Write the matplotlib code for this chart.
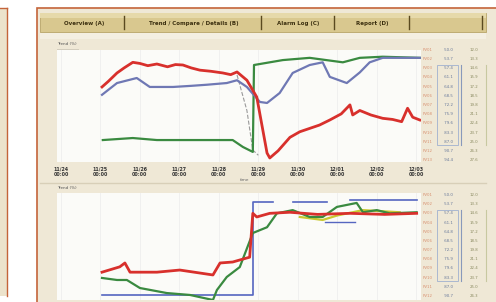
import numpy as np
import matplotlib
matplotlib.use("Agg")
import matplotlib.pyplot as plt
from matplotlib.patches import Rectangle

# ---- data (x in days, y in % of panel range) ----
top_red_x = [1.04, 1.2, 1.42, 1.6, 1.82, 2.0, 2.2, 2.43, 2.7, 2.9, 3.09, 3.3, 3.52, 3.8, 4.10, 4.3, 4.46,
             4.71, 4.96, 5.22, 5.29, 5.5, 5.80, 6.05, 6.30, 6.55, 6.81, 7.1, 7.32, 7.39, 7.57, 7.85, 8.15,
             8.4, 8.63, 8.78, 8.91, 9.09]
top_red_y = [67, 72, 79.5, 84, 89, 88, 86, 87.5, 85, 87, 86.6, 84, 82, 81, 79.5, 78, 80.4,
             73, 58, 8, 3.6, 10, 22, 27, 30, 33, 37.5, 43, 51, 42, 46, 42, 39,
             38, 36, 48, 40, 37.5]

top_blue_x = [1.04, 1.42, 1.92, 2.25, 2.84, 3.3, 3.70, 4.20, 4.46, 4.71, 5.04, 5.22, 5.54, 5.87, 6.30,
              6.63, 6.81, 7.24, 7.57, 7.82, 8.15, 8.6, 9.09]
top_blue_y = [60, 70.5, 75, 67, 67, 68, 69, 70.5, 73, 67, 53.6, 52.7, 61.6, 79.5, 86.6,
              89, 76, 70.5, 80, 89, 93, 93, 93]

top_green_x = [1.06, 1.82, 2.43, 3.4, 4.35, 4.61, 4.86, 4.89, 5.62, 6.30, 7.14, 7.57, 8.15, 9.09]
top_green_y = [19.6, 21.4, 19.6, 19.6, 19.6, 13.4, 9, 86.6, 91, 93, 89, 93, 94, 93]

top_gray_x = [4.46, 4.71, 4.86, 5.0]
top_gray_y = [77.7, 46, 10.7, 6]

bot_red_x = [1.04, 1.49, 1.62, 1.75, 2.43, 3.01, 3.85, 4.03, 4.35, 4.53, 4.78, 4.86, 4.96, 5.29, 5.80,
             6.5, 7.32, 8.2, 9.01]
bot_red_y = [26, 31, 34.6, 26, 26, 28, 23.4, 34.6, 35.5, 37.4, 40, 81, 77.6, 81, 82,
             80, 81, 80, 81]

bot_green_x = [1.04, 1.42, 1.67, 2.0, 2.68, 3.27, 3.85, 3.95, 4.20, 4.53, 4.86, 5.22, 5.47, 5.87, 6.30,
               6.63, 6.99, 7.49, 7.65, 8.0, 8.33, 9.01]
bot_green_y = [20.6, 18.7, 18.7, 11.2, 6.5, 4.7, 0, 9.3, 21.5, 30.8, 62.6, 68, 81, 84, 77.6,
               77.6, 87, 90.7, 82, 84, 81, 82]

bot_blue_x = [1.04, 4.86, 4.86, 5.37, np.nan, 5.87, 6.73, np.nan, 7.32, 9.01]
bot_blue_y = [4.7, 4.7, 91.6, 91.6, np.nan, 91.6, 91.6, np.nan, 93, 93]
bot_blue2_x = [6.68, 7.44]
bot_blue2_y = [73, 73]

bot_yel_x = [6.05, 6.63, 7.0, 7.65, 8.58]
bot_yel_y = [77.6, 74.8, 79, 84, 82]

tick_days = list(range(10))
tick_labels = ["11/24\n00:00", "11/25\n00:00", "11/26\n00:00", "11/27\n00:00", "11/28\n00:00",
               "11/29\n00:00", "11/30\n00:00", "12/01\n00:00", "12/02\n00:00", "12/03\n00:00"]
tab_labels = ["Overview (A)", "Trend / Compare / Details (B)", "Alarm Log (C)", "Report (D)"]
tab_edges = [43, 125, 262, 335, 410, 483]

W, H = 496, 302
fig = plt.figure(figsize=(W / 100, H / 100), dpi=100)
fig.patch.set_facecolor("white")

# background canvas in pixel coordinates
bg = fig.add_axes([0, 0, 1, 1])
bg.set_xlim(0, W)
bg.set_ylim(H, 0)
bg.axis("off")

edge = "#c4643a"
# left page sliver
bg.add_patch(Rectangle((0, 8), 7, 288, facecolor="#ece3cc", edgecolor="none"))
bg.plot([7, 7], [8, 296], color=edge, lw=1)
bg.plot([0, 7], [8, 8], color=edge, lw=1)
# main frame
bg.add_patch(Rectangle((37, 8), 462, 296, facecolor="#efe8d6", edgecolor=edge, lw=1.2))
# tab bar
bg.add_patch(Rectangle((40, 13), 446, 19, facecolor="#d9c88f", edgecolor="#b9a56a", lw=0.6))
bg.add_patch(Rectangle((40, 13), 446, 5, facecolor="#e6d9aa", edgecolor="none"))
for i, lab in enumerate(tab_labels):
    x0, x1 = tab_edges[i], tab_edges[i + 1]
    bg.plot([x1 - 1, x1 - 1], [16, 29], color="#5a4a20", lw=1)
    bg.text((x0 + x1) / 2, 23, lab, fontsize=4, color="#3c3010", ha="center", va="center",
            weight="bold")
bg.plot([482, 482], [16, 29], color="#5a4a20", lw=1)
# cream band under the tab bar
bg.add_patch(Rectangle((40, 33), 446, 6, facecolor="#f4efe2", edgecolor="none"))

# panel labels
for y0 in (44, 188):
    bg.text(57, y0, "Trend (%)", fontsize=3, color="#555555", va="center")
    bg.text(57, y0 + 8, "TAG 01", fontsize=4, color="black", weight="bold", va="center",
            bbox=dict(facecolor="#333333", edgecolor="none", pad=0.3, alpha=0.15))
bg.plot([40, 486], [183, 183], color="#d8cfb8", lw=1)
bg.text(245, 180, "time", fontsize=3, color="#666666", ha="center", va="center")

# right-hand tables
def table(y_top, y_bot, n):
    ys = np.linspace(y_top, y_bot, n)
    for k, yy in enumerate(ys):
        bg.text(428, yy, "PV%02d" % (k + 1), fontsize=2.8, color="#d89070", ha="center", va="center")
        bg.text(448, yy, "%5.1f" % (50 + 3.7 * k), fontsize=2.8, color="#667799", ha="center", va="center")
        bg.text(474, yy, "%4.1f" % (12 + 1.3 * k), fontsize=2.8, color="#8a8a60", ha="center", va="center")
    bg.add_patch(Rectangle((437, ys[2] - 3), 21, ys[-3] - ys[2] + 6, facecolor="none",
                           edgecolor="#9fb0d0", lw=0.6))
    bg.plot([461, 461], [ys[2] - 3, ys[-3] + 3], color="#8899bb", lw=0.8)
    bg.plot([486, 486], [ys[2] - 3, ys[-3] + 3], color="#c8c8a0", lw=0.8)

table(50, 160, 13)
table(195, 296, 12)

# data panels
def px_axes(x0, y0, x1, y1):
    return fig.add_axes([x0 / W, 1 - y1 / H, (x1 - x0) / W, (y1 - y0) / H])

ax1 = px_axes(57, 50, 421, 162)
ax2 = px_axes(57, 193, 421, 300)
for ax in (ax1, ax2):
    ax.set_facecolor("#fbfbf8")
    ax.set_xlim(-0.1, 9.12)
    for s in ax.spines.values():
        s.set_visible(False)
    ax.set_yticks([])
    for d in tick_days:
        ax.axvline(d, color="#eeeeee", lw=0.6, zorder=0)

ax1.set_ylim(0, 100)
ax1.plot(top_gray_x, top_gray_y, color="#9a9a9a", lw=0.8, ls="--")
ax1.plot(top_green_x, top_green_y, color="#3a8a40", lw=1.6)
ax1.plot(top_blue_x, top_blue_y, color="#6f78b4", lw=1.6)
ax1.plot(top_red_x, top_red_y, color="#d8302c", lw=2.0)
ax1.set_xticks(tick_days)
ax1.set_xticklabels(tick_labels, fontsize=3.4, color="#333333", weight="bold")
ax1.tick_params(axis="x", length=0, pad=3)

ax2.set_ylim(0, 100)
ax2.plot(bot_blue_x, bot_blue_y, color="#5566c0", lw=1.2)
ax2.plot(bot_blue2_x, bot_blue2_y, color="#5566c0", lw=1.0)
ax2.plot(bot_yel_x, bot_yel_y, color="#c8c830", lw=1.6)
ax2.plot(bot_green_x, bot_green_y, color="#3a8a40", lw=1.6)
ax2.plot(bot_red_x, bot_red_y, color="#d8302c", lw=2.0)
ax2.set_xticks([])

fig.savefig("out.png", dpi=100)
